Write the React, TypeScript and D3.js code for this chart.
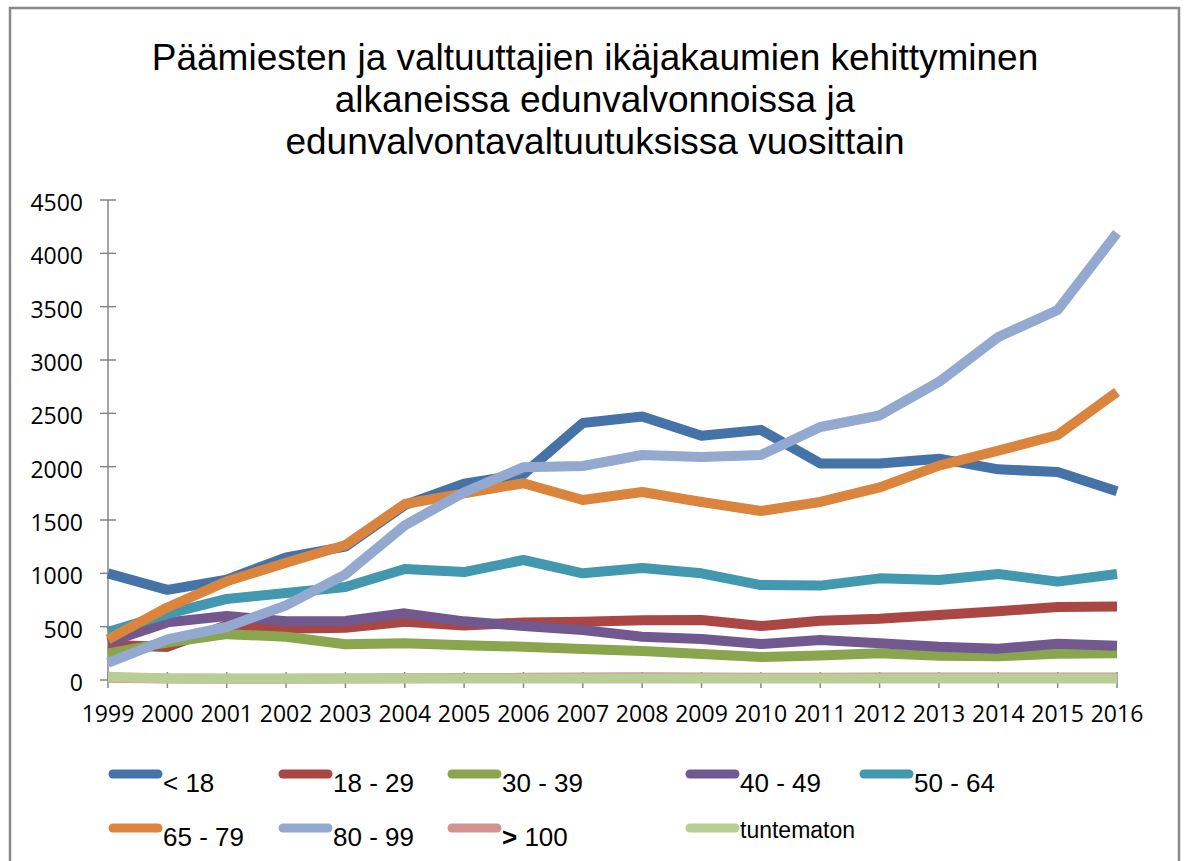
import React from "react";
import * as d3 from "d3";

// data
const years = [1999, 2000, 2001, 2002, 2003, 2004, 2005, 2006, 2007, 2008, 2009, 2010, 2011, 2012, 2013, 2014, 2015, 2016];

const under18 = [1000, 845, 940, 1150, 1250, 1640, 1840, 1930, 2410, 2470, 2290, 2345, 2030, 2030, 2075, 1975, 1950, 1770];
const age18to29 = [330, 310, 515, 480, 490, 545, 510, 540, 547, 560, 563, 506, 555, 575, 610, 645, 685, 688];
const age30to39 = [250, 350, 430, 405, 335, 345, 325, 312, 290, 272, 244, 216, 230, 250, 228, 222, 245, 250];
const age40to49 = [355, 540, 600, 550, 553, 625, 550, 506, 469, 406, 384, 337, 375, 344, 312, 294, 340, 320];
const age50to64 = [450, 620, 760, 816, 872, 1041, 1012, 1125, 1000, 1050, 1000, 890, 885, 953, 937, 994, 922, 994];
const age65to79 = [380, 680, 925, 1100, 1265, 1650, 1750, 1845, 1687, 1762, 1669, 1584, 1669, 1805, 2010, 2150, 2297, 2700];
const age80to99 = [160, 380, 497, 700, 990, 1450, 1760, 1995, 2006, 2109, 2090, 2109, 2372, 2480, 2794, 3216, 3469, 4190];
const over100 = [22, 14, 12, 12, 14, 16, 18, 20, 24, 26, 24, 22, 22, 24, 24, 24, 24, 24];
const unknown = [30, 15, 14, 14, 14, 14, 14, 14, 13, 13, 13, 13, 13, 13, 13, 13, 13, 13];

const seriesNames = ["< 18", "18 - 29", "30 - 39", "40 - 49", "50 - 64", "65 - 79", "80 - 99", "> 100", "tuntematon"];
const seriesColors = ["#4572A7", "#AA4643", "#89A54E", "#71588F", "#4198AF", "#DB843D", "#93A9CF", "#D19392", "#B9CD96"];
const seriesValues = [under18, age18to29, age30to39, age40to49, age50to64, age65to79, age80to99, over100, unknown];

const yTicks = [0, 500, 1000, 1500, 2000, 2500, 3000, 3500, 4000, 4500];
const titleLines = [
  "Päämiesten ja valtuuttajien ikäjakaumien kehittyminen",
  "alkaneissa edunvalvonnoissa ja",
  "edunvalvontavaltuutuksissa vuosittain",
];

const W = 1184;
const H = 861;
const axisColor = "#868686";
const tickFont = "'Open Sans', 'DejaVu Sans', sans-serif";
const legendFont = "'Liberation Sans', Arial, sans-serif";

// legend layout: 5 items on row one, 4 on row two
const legendCols = [109, 279, 448, 686, 860];
const legendRows = [774, 828];

const App: React.FC = () => {
  const x = d3.scaleLinear().domain([years[0], years[years.length - 1]]).range([108, 1117]);
  const y = d3.scaleLinear().domain([0, 4500]).range([680, 200]);

  const line = d3
    .line<number>()
    .x((_, i) => x(years[i]))
    .y((d) => y(d));

  return (
    <svg
      width={W}
      height={H}
      style={{ position: "absolute", left: 0, top: 0, background: "#fff" }}
    >
      <rect x={0} y={0} width={W} height={H} fill="#fff" />
      <rect x={10} y={8} width={1169} height={900} fill="none" stroke="#8a8a8a" strokeWidth={2.5} />

      {/* title */}
      <g fontFamily="'Liberation Sans', Arial, sans-serif" fontSize={37} textAnchor="middle" fill="#000">
        {titleLines.map((t, i) => (
          <text key={i} x={595} y={70 + i * 42}>
            {t}
          </text>
        ))}
      </g>

      {/* y axis */}
      <line x1={x(years[0])} x2={x(years[0])} y1={y(4500)} y2={y(0)} stroke={axisColor} strokeWidth={1.5} />
      {yTicks.map((t) => (
        <g key={t}>
          <line x1={100} x2={116} y1={y(t)} y2={y(t)} stroke={axisColor} strokeWidth={1.5} />
          <text x={83} y={y(t) + 11} textAnchor="end" fontFamily={tickFont} fontSize={23} fill="#000">
            {t}
          </text>
        </g>
      ))}

      {/* x axis */}
      <line x1={x(years[0])} x2={x(years[years.length - 1])} y1={y(0)} y2={y(0)} stroke={axisColor} strokeWidth={1.5} />
      {years.map((yr) => (
        <g key={yr}>
          <line x1={x(yr)} x2={x(yr)} y1={y(0) - 8} y2={y(0) + 8} stroke={axisColor} strokeWidth={1.5} />
          <text x={x(yr)} y={722} textAnchor="middle" fontFamily={tickFont} fontSize={23} fill="#000">
            {yr}
          </text>
        </g>
      ))}

      {/* series */}
      {seriesValues.map((vals, i) => (
        <path
          key={seriesNames[i]}
          d={line(vals) ?? ""}
          fill="none"
          stroke={seriesColors[i]}
          strokeWidth={10}
          strokeLinejoin="round"
        />
      ))}

      {/* legend */}
      {seriesNames.map((name, i) => {
        const col = i < 5 ? i : i - 5;
        const row = i < 5 ? 0 : 1;
        const lx = legendCols[col];
        const ly = legendRows[row];
        const isUnknown = name === "tuntematon";
        return (
          <g key={name}>
            <line
              x1={lx + 4}
              x2={lx + 49}
              y1={ly}
              y2={ly}
              stroke={seriesColors[i]}
              strokeWidth={9}
              strokeLinecap="round"
            />
            <text
              x={lx + 54}
              y={ly + (isUnknown ? 10 : 18)}
              fontFamily={legendFont}
              fontSize={isUnknown ? 23 : 26}
              fill="#000"
              style={{ whiteSpace: "pre" }}
            >
              {name.startsWith(">") ? (
                <>
                  <tspan fontWeight="bold">&gt;</tspan>
                  {name.slice(1)}
                </>
              ) : (
                name
              )}
            </text>
          </g>
        );
      })}
    </svg>
  );
};

export default App;
